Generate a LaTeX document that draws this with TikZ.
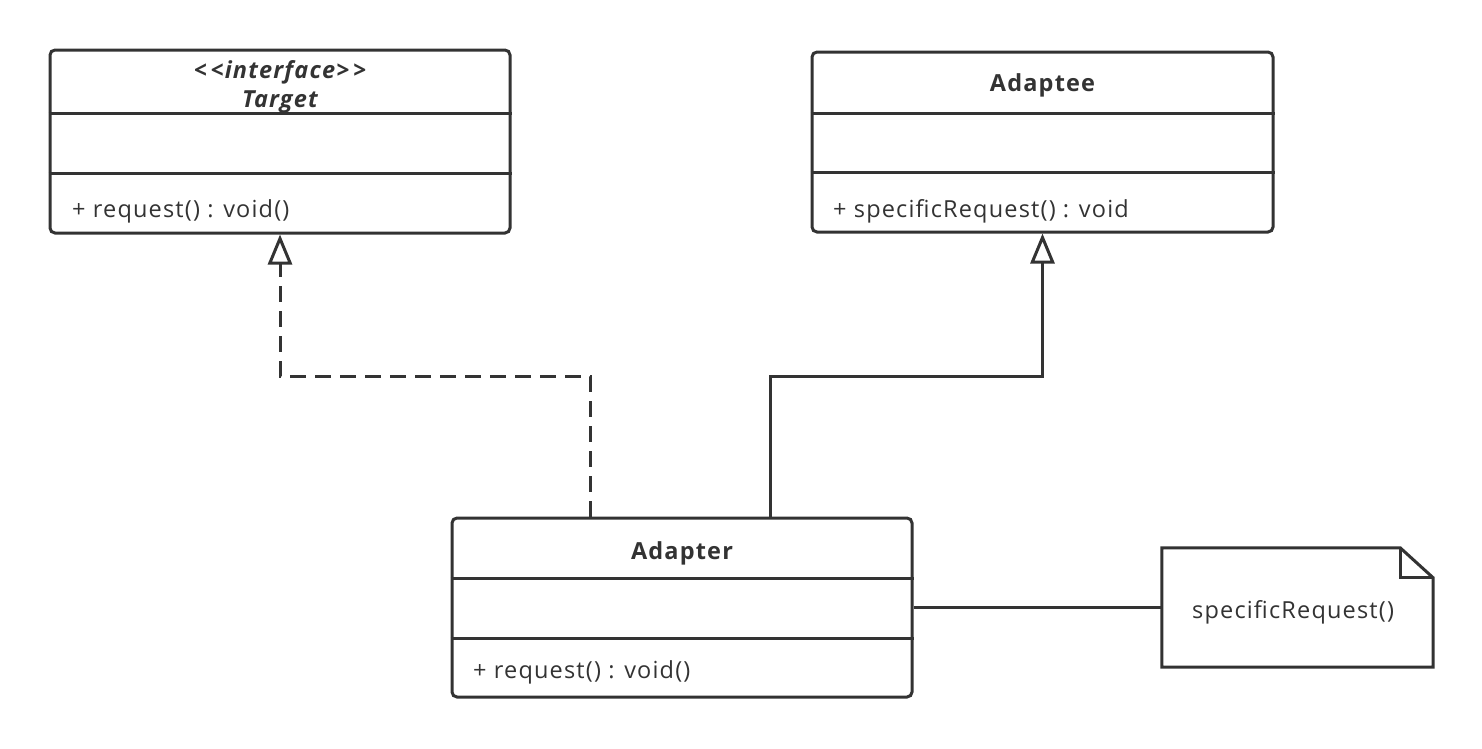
\documentclass[tikz,border=0pt]{standalone}
\usepackage{fontspec}
\setmainfont{Open Sans}[LetterSpace=5]
\usetikzlibrary{arrows.meta}
\definecolor{ln}{HTML}{333333}
\tikzset{
  cls/.style={draw=ln, line width=3pt, rounded corners=5pt, fill=white, inner sep=0pt},
  div/.style={draw=ln, line width=3pt},
  txt/.style={text=ln, inner sep=0pt, font=\fontsize{23.5}{28}\selectfont},
  btxt/.style={text=ln, inner sep=0pt, font=\fontsize{23.5}{28}\selectfont\bfseries},
  bitxt/.style={text=ln, inner sep=0pt, font=\fontsize{23.5}{28}\selectfont\bfseries\itshape},
  conn/.style={draw=ln, line width=3pt},
  realize/.style={conn, dash pattern=on 16pt off 9pt, -{Triangle[open, length=30pt, width=24pt]}},
  inherit/.style={conn, -{Triangle[open, length=30pt, width=24pt]}},
  notebox/.style={inner sep=0pt, minimum width=271pt, minimum height=119pt}
}
\begin{document}
\begin{tikzpicture}[x=1pt,y=-1pt]
\useasboundingbox[fill=white] (0,0) rectangle (1482,748);
% Target
\node[cls, minimum width=460pt, minimum height=183pt] (target) at (280,141.5) {};
\draw[div] (target.west |- 0,113) -- (target.east |- 0,113);
\draw[div] (target.west |- 0,173) -- (target.east |- 0,173);
\node[bitxt, anchor=base] (tst) at (280,78) {{<}\,{<}interface{>}\,{>}};
\node[bitxt, anchor=base] (tname) at (280,107) {Target};
\node[txt, anchor=base west] (top) at (72,217) {+ request() : void()};
% Adaptee
\node[cls, minimum width=461pt, minimum height=180pt] (adaptee) at (1042.5,142) {};
\draw[div] (adaptee.west |- 0,113) -- (adaptee.east |- 0,113);
\draw[div] (adaptee.west |- 0,172) -- (adaptee.east |- 0,172);
\node[btxt, anchor=base] (aename) at (1042.5,91) {Adaptee};
\node[txt, anchor=base west] (aeop) at (833,217) {+ specificRequest() : void};
% Adapter
\node[cls, minimum width=460pt, minimum height=179pt] (adapter) at (682,607.5) {};
\draw[div] (adapter.west |- 0,578) -- (adapter.east |- 0,578);
\draw[div] (adapter.west |- 0,638) -- (adapter.east |- 0,638);
\node[btxt, anchor=base] (arname) at (682,559) {Adapter};
\node[txt, anchor=base west] (arop) at (473,678) {+ request() : void()};
% Note
\node[notebox] (note) at (1297.5,607.5) {};
\draw[conn, line join=miter] (note.south west) -- (note.north west) -- ([xshift=-33pt]note.north east)
  -- ([yshift=-30pt]note.north east) -- (note.south east) -- cycle;
\draw[conn, line join=miter] ([xshift=-33pt]note.north east) -- ([xshift=-33pt,yshift=-30pt]note.north east)
  -- ([yshift=-30pt]note.north east);
\node[txt, anchor=base west] (ntext) at (1192,618) {specificRequest()};
% Connectors
\draw[realize] (590,0 |- adapter.north) -- (590,376) -- (280,376) -- (target.south);
\draw[inherit] (770,0 |- adapter.north) -- (770,376) -- (1042.5,376) -- (adaptee.south);
\draw[conn] (adapter.east) -- (note.west);
\end{tikzpicture}
\end{document}
